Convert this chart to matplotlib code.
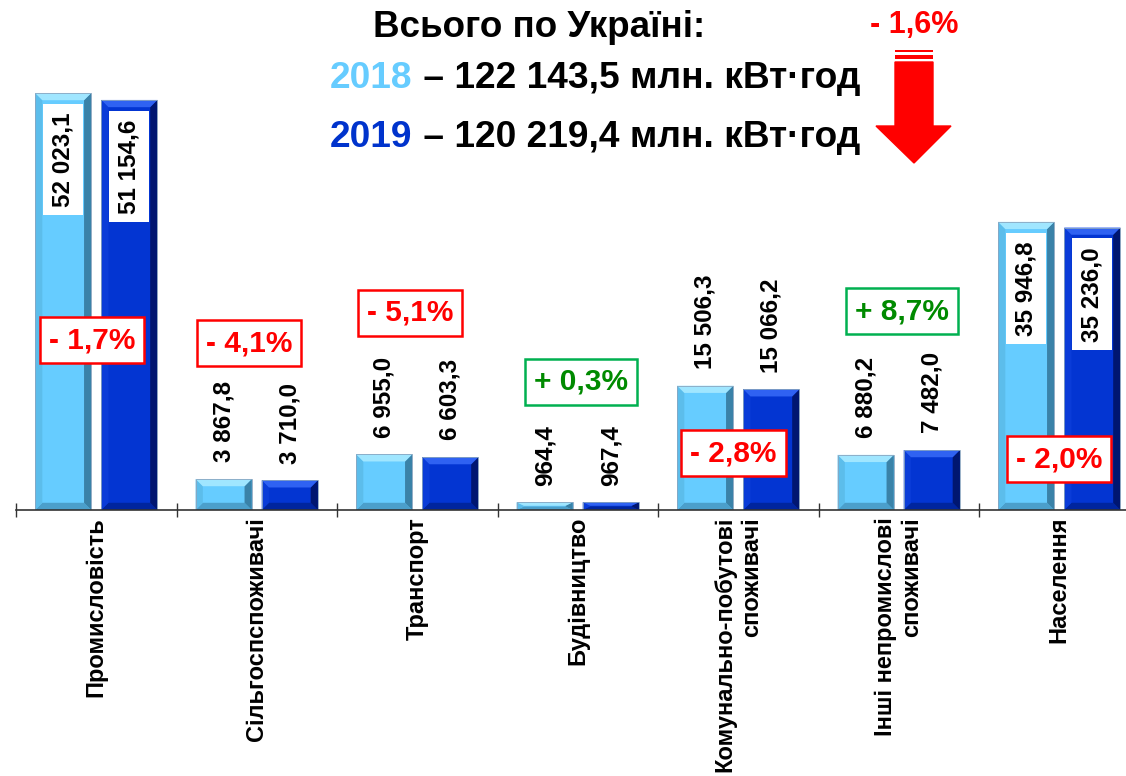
import matplotlib.pyplot as plt
import numpy as np
from matplotlib.patches import Polygon, Rectangle

plt.rcParams['font.family'] = ['Liberation Sans', 'DejaVu Sans']

categories = ['Промисловість', 'Сільгоспспоживачі', 'Транспорт', 'Будівництво',
              'Комунально-побутові\nспоживачі', 'Інші непромислові\nспоживачі', 'Населення']
val_2018 = [52023.1, 3867.8, 6955.0, 964.4, 15506.3, 6880.2, 35946.8]
val_2019 = [51154.6, 3710.0, 6603.3, 967.4, 15066.2, 7482.0, 35236.0]
lbl_2018 = ['52 023,1', '3 867,8', '6 955,0', '964,4', '15 506,3', '6 880,2', '35 946,8']
lbl_2019 = ['51 154,6', '3 710,0', '6 603,3', '967,4', '15 066,2', '7 482,0', '35 236,0']
changes = ['- 1,7%', '- 4,1%', '- 5,1%', '+ 0,3%', '- 2,8%', '+ 8,7%', '- 2,0%']
total_2018 = '122 143,5'
total_2019 = '120 219,4'
total_change = '- 1,6%'

# where the % boxes sit (x offset from category centre, y in data units)
box_dx = [-0.025, -0.047, -0.044, 0.02, -0.03, 0.02, 0.0]
box_y = [21200, 20830, 24580, 15970, 7110, 24820, 6360]

W, H = 1126, 776
fig = plt.figure(figsize=(W / 100, H / 100), dpi=100)
base_px = 510
px_per_unit = 0.008016
ax = fig.add_axes([16 / W, (H - base_px) / H, 1123.5 / W, base_px / H])
ax.set_xlim(-0.5, 6.5)
ax.set_ylim(0, base_px / px_per_unit)

x = np.arange(len(categories))
bw = 0.35
off = 0.206

c18 = dict(face='#66CCFF', top='#A0E6FF', left='#5CBDEB', right='#3A82A8', bottom='#4B9FCB')
c19 = dict(face='#0335D2', top='#2F62F2', left='#0A3CD8', right='#001670', bottom='#00259E')


def bevel(ax, rect, c):
    x0 = rect.get_x()
    w = rect.get_width()
    h = rect.get_height()
    x1 = x0 + w
    bx = 0.045
    by = min(900, h * 0.45)
    ax.add_patch(Polygon([(x0, 0), (x1, 0), (x1 - bx, by), (x0 + bx, by)], color=c['bottom'], lw=0))
    ax.add_patch(Polygon([(x0, 0), (x0 + bx, by), (x0 + bx, h - by), (x0, h)], color=c['left'], lw=0))
    ax.add_patch(Polygon([(x1, 0), (x1 - bx, by), (x1 - bx, h - by), (x1, h)], color=c['right'], lw=0))
    ax.add_patch(Polygon([(x0, h), (x1, h), (x1 - bx, h - by), (x0 + bx, h - by)], color=c['top'], lw=0))
    ax.add_patch(Rectangle((x0, 0), w, h, fill=False, ec='#8AA6C0', lw=0.6))


bars18 = ax.bar(x - off, val_2018, bw, color=c18['face'], lw=0)
bars19 = ax.bar(x + off, val_2019, bw, color=c19['face'], lw=0)
for r in bars18:
    bevel(ax, r, c18)
for r in bars19:
    bevel(ax, r, c19)

# value labels
for bars, lbls in ((bars18, lbl_2018), (bars19, lbl_2019)):
    for r, t in zip(bars, lbls):
        xc = r.get_x() + r.get_width() / 2
        h = r.get_height()
        if h > 30000:
            ax.annotate(t, (xc, h), xytext=(0, -14), textcoords='offset points',
                        rotation=90, ha='center', va='top', fontsize=17.5, fontweight='bold',
                        bbox=dict(boxstyle='square,pad=0.35', fc='white', ec='none'))
        else:
            ax.annotate(t, (xc, h), xytext=(0, 12), textcoords='offset points',
                        rotation=90, ha='center', va='bottom', fontsize=17.5, fontweight='bold')

# % change boxes
for i, t in enumerate(changes):
    if t.startswith('+'):
        tc, ec = '#008A00', '#00B050'
    else:
        tc, ec = '#FF0000', '#FF0000'
    ax.text(x[i] + box_dx[i], box_y[i], t, ha='center', va='center', fontsize=21.5,
            fontweight='bold', color=tc,
            bbox=dict(boxstyle='square,pad=0.3', fc='white', ec=ec, lw=1.8))

# axis
for s in ['top', 'left', 'right']:
    ax.spines[s].set_visible(False)
ax.spines['bottom'].set_color('#333333')
ax.spines['bottom'].set_linewidth(1.2)
ax.set_yticks([])
ax.set_xticks(x)
ax.set_xticklabels(categories, rotation=90, fontsize=17, fontweight='bold',
                   multialignment='right')
ax.tick_params(axis='x', which='major', length=0, pad=5)
ax.set_xticks(np.arange(-0.5, 7, 1), minor=True)
ax.tick_params(axis='x', which='minor', direction='inout', length=10, width=1, color='#333333')


def fx(px):
    return px / W


def fy(py):
    return 1 - py / H


# title block
fig.text(fx(539), fy(37), 'Всього по Україні:', ha='center', va='baseline',
         fontsize=26.5, fontweight='bold')
for yr, tot, col, yb in (('2018', total_2018, '#66CCFF', 88), ('2019', total_2019, '#0033CC', 147)):
    t = fig.text(fx(330), fy(yb), yr, ha='left', va='baseline', fontsize=26.7,
                 fontweight='bold', color=col)
    ax.annotate(' – ' + tot + ' млн. кВт·год', xy=(1, 0), xycoords=t, ha='left', va='bottom',
                fontsize=26.7, fontweight='bold', color='black', annotation_clip=False)

# red arrow
fig.text(fx(914), fy(33), total_change, ha='center', va='baseline', fontsize=22,
         fontweight='bold', color='#FF0000')
arrow = [(895, 62), (933, 62), (933, 126), (951, 126), (914, 163), (876, 126), (895, 126)]
fig.patches.append(Polygon([(fx(a), fy(b)) for a, b in arrow], closed=True, color='#FF0000',
                           transform=fig.transFigure, figure=fig))
for y0, y1 in ((49.5, 52), (54.5, 59)):
    fig.patches.append(Rectangle((fx(895), fy(y1)), fx(933) - fx(895), fy(y0) - fy(y1),
                                 color='#FF0000', lw=0, transform=fig.transFigure, figure=fig))

fig.savefig('out.png', dpi=100)
